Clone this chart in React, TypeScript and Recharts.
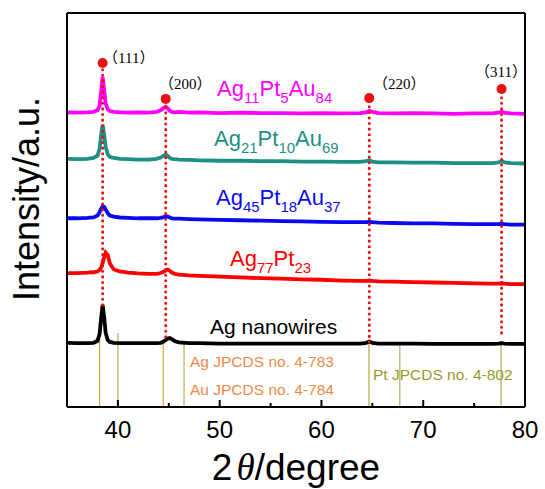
import React from "react";
import { LineChart, Line, XAxis, YAxis, ReferenceLine, ReferenceDot } from "recharts";

// 2θ sample points (denser around the reflections)
const twoTheta = [
  35, 36, 37, 37.6, 38.0, 38.2, 38.35, 38.5, 38.65, 38.8, 39.0, 39.2, 39.6, 40.2, 41, 42, 43,
  43.8, 44.2, 44.5, 44.7, 44.9, 45.1, 45.3, 45.6, 46, 47, 48, 50, 52, 54, 56, 58, 60, 62, 63.8,
  64.4, 64.7, 65.0, 65.6, 67, 69, 71, 73, 75, 76.8, 77.4, 77.7, 78.0, 78.6, 80,
];

const ag11 = [
  74.8, 74.7, 74.8, 74.9, 75.3, 76.5, 80.0, 83.8, 80.5, 77.0, 75.6, 75.1, 74.9, 74.8, 74.7, 74.8, 74.7,
  74.9, 75.3, 75.9, 76.2, 75.8, 75.2, 74.9, 74.8, 74.9, 74.7, 74.8, 74.6, 74.7, 74.6, 74.6, 74.5, 74.6, 74.5, 74.6,
  74.8, 75.2, 74.9, 74.6, 74.5, 74.6, 74.5, 74.4, 74.5, 74.5, 74.7, 75.0, 74.7, 74.5, 74.4,
];
const ag21 = [
  63.0, 62.9, 63.0, 63.2, 63.8, 65.5, 69.0, 71.6, 69.2, 66.0, 64.2, 63.5, 63.2, 63.0, 62.9, 62.8, 62.8,
  63.0, 63.3, 63.8, 64.1, 63.7, 63.2, 63.0, 62.9, 62.8, 62.7, 62.6, 62.5, 62.5, 62.4, 62.4, 62.3, 62.3, 62.2, 62.2,
  62.4, 62.6, 62.3, 62.1, 62.1, 62.0, 62.0, 61.9, 61.9, 61.9, 62.1, 62.4, 62.1, 61.9, 61.8,
];
const ag45 = [
  47.9, 47.9, 48.0, 48.1, 48.6, 49.4, 50.3, 50.9, 50.8, 50.1, 49.2, 48.6, 48.3, 48.1, 48.0, 47.9, 47.9,
  47.9, 48.0, 48.2, 48.4, 48.3, 48.1, 47.9, 47.8, 47.8, 47.7, 47.6, 47.5, 47.4, 47.3, 47.2, 47.1, 47.0, 46.9, 46.9,
  46.9, 47.0, 46.9, 46.8, 46.7, 46.6, 46.6, 46.5, 46.4, 46.4, 46.4, 46.5, 46.4, 46.3, 46.3,
];
const ag77 = [
  34.0, 34.0, 34.1, 34.2, 34.4, 34.8, 35.4, 36.5, 38.0, 39.2, 38.6, 36.5, 34.9, 34.4, 34.1, 33.9, 33.8,
  33.8, 34.0, 34.3, 34.7, 34.9, 34.6, 34.1, 33.8, 33.6, 33.4, 33.3, 33.1, 32.9, 32.7, 32.6, 32.4, 32.3, 32.1, 32.0,
  32.0, 32.1, 32.0, 31.9, 31.8, 31.7, 31.6, 31.5, 31.4, 31.3, 31.3, 31.4, 31.3, 31.2, 31.2,
];
const agNw = [
  16.3, 16.2, 16.2, 16.3, 16.8, 18.5, 22.5, 25.9, 22.8, 18.8, 17.0, 16.5, 16.3, 16.2, 16.2, 16.2, 16.2,
  16.2, 16.3, 16.6, 17.0, 17.4, 17.5, 17.2, 16.7, 16.4, 16.2, 16.2, 16.1, 16.1, 16.1, 16.1, 16.1, 16.1, 16.1, 16.1,
  16.3, 16.6, 16.3, 16.1, 16.1, 16.1, 16.0, 16.0, 16.0, 16.0, 16.1, 16.2, 16.1, 16.0, 16.0,
];

// (hkl) marker positions
const hklPos = [38.5, 44.7, 64.7, 77.7];
const hklTop = [87.3, 78.2, 78.4, 80.7];
const hklBottom = [25.9, 17.8, 16.5, 18.8];

// JCPDS standard lines
const stdPos = [38.2, 40.0, 44.45, 46.5, 64.67, 67.7, 77.65];
const stdTop = [18.8, 18.8, 17.0, 16.8, 16.5, 16.3, 16.8];
const stdColor = ["#d9a040", "#b4b060", "#d9a040", "#b4b060", "#b0a850", "#b4b060", "#b0a850"];

const xTicks = [35, 40, 45, 50, 55, 60, 65, 70, 75, 80];

const rows = twoTheta.map((t, i) => ({
  t,
  ag11: ag11[i],
  ag21: ag21[i],
  ag45: ag45[i],
  ag77: ag77[i],
  agNw: agNw[i],
}));

const sans = "'Liberation Sans', Arial, sans-serif";
const serif = "'Liberation Serif', 'Times New Roman', serif";
const hklFont = "'Liberation Serif', 'Noto Sans CJK SC', serif";

function Tick(props: any) {
  const { x, y, payload } = props;
  const v = payload.value;
  const major = v % 10 === 0;
  return (
    <g>
      <line x1={x} x2={x} y1={y} y2={y - (major ? 7 : 4)} stroke="#000" strokeWidth={2} />
      {major && (
        <text x={x} y={y + 31} textAnchor="middle" fontFamily={sans} fontSize={24} fill="#000">
          {v}
        </text>
      )}
    </g>
  );
}

const sub = (s: string, size: number, drop: number) => (
  <span style={{ fontSize: size, position: "relative", top: drop }}>{s}</span>
);

function Abs({ left, top, children, style }: any) {
  return (
    <div
      style={{
        position: "absolute",
        left,
        top,
        lineHeight: 1,
        whiteSpace: "nowrap",
        fontFamily: sans,
        ...style,
      }}
    >
      {children}
    </div>
  );
}

function Hkl({ left, top, text }: any) {
  return (
    <Abs left={left} top={top} style={{ fontSize: 15, fontFamily: hklFont, color: "#000" }}>
      <span style={{ fontFamily: "'Noto Sans CJK SC'" }}>（</span>
      {text}
      <span style={{ fontFamily: "'Noto Sans CJK SC'" }}>）</span>
    </Abs>
  );
}

export default function App() {
  return (
    <div style={{ position: "absolute", left: 0, top: 0, width: 545, height: 489, background: "#fff" }}>
      <LineChart width={545} height={489} data={rows} margin={{ top: 13, right: 20, bottom: 0, left: 67 }}>
        <XAxis
          dataKey="t"
          type="number"
          domain={[35, 80]}
          ticks={xTicks}
          tick={<Tick />}
          tickLine={false}
          tickSize={0}
          tickMargin={0}
          height={82}
          axisLine={{ stroke: "#000", strokeWidth: 2 }}
          allowDataOverflow
        />
        <YAxis hide domain={[0, 100]} type="number" />
        {stdPos.map((p, i) => (
          <ReferenceLine
            key={"std" + i}
            segment={[{ x: p, y: 0 }, { x: p, y: stdTop[i] }]}
            stroke={stdColor[i]}
            strokeWidth={1.2}
          />
        ))}
        <Line dataKey="agNw" stroke="#000" strokeWidth={3.8} dot={false} type="linear" isAnimationActive={false} />
        <Line dataKey="ag77" stroke="#ff0000" strokeWidth={3.8} dot={false} type="linear" isAnimationActive={false} />
        <Line dataKey="ag45" stroke="#0a0af0" strokeWidth={3.8} dot={false} type="linear" isAnimationActive={false} />
        <Line dataKey="ag21" stroke="#1c9083" strokeWidth={3.8} dot={false} type="linear" isAnimationActive={false} />
        <Line dataKey="ag11" stroke="#ff00ff" strokeWidth={3.8} dot={false} type="linear" isAnimationActive={false} />
        {hklPos.map((p, i) => (
          <ReferenceLine
            key={"hkl" + i}
            segment={[{ x: p, y: hklBottom[i] }, { x: p, y: hklTop[i] }]}
            stroke="#e81010"
            strokeWidth={3}
            strokeDasharray="0.1 5.5"
            strokeLinecap="round"
          />
        ))}
        {hklPos.map((p, i) => (
          <ReferenceDot key={"dot" + i} x={p} y={hklTop[i]} r={5} fill="#e81010" stroke="none" />
        ))}
        <ReferenceLine x={35} stroke="#000" strokeWidth={2} />
        <ReferenceLine x={80} stroke="#000" strokeWidth={2} />
        <ReferenceLine y={100} stroke="#000" strokeWidth={2} />
      </LineChart>

      {/* sample labels */}
      <Abs left={217} top={78} style={{ fontSize: 22, color: "#ff00ff" }}>
        Ag{sub("11", 15, 7)}Pt{sub("5", 15, 7)}Au{sub("84", 15, 7)}
      </Abs>
      <Abs left={214} top={128} style={{ fontSize: 22, color: "#1c9083" }}>
        Ag{sub("21", 15, 7)}Pt{sub("10", 15, 7)}Au{sub("69", 15, 7)}
      </Abs>
      <Abs left={216} top={187} style={{ fontSize: 22, color: "#0a0af0" }}>
        Ag{sub("45", 15, 7)}Pt{sub("18", 15, 7)}Au{sub("37", 15, 7)}
      </Abs>
      <Abs left={230} top={248} style={{ fontSize: 22, color: "#ff0000" }}>
        Ag{sub("77", 15, 7)}Pt{sub("23", 15, 7)}
      </Abs>
      <Abs left={210} top={316} style={{ fontSize: 21, color: "#000" }}>
        Ag nanowires
      </Abs>

      {/* JCPDS labels */}
      <Abs left={190} top={354} style={{ fontSize: 15.5, color: "#ec8a48" }}>
        Ag JPCDS no. 4-783
      </Abs>
      <Abs left={190} top={382} style={{ fontSize: 15.5, color: "#ec8a48" }}>
        Au JPCDS no. 4-784
      </Abs>
      <Abs left={373} top={367} style={{ fontSize: 15.5, color: "#9a9a28" }}>
        Pt JPCDS no. 4-802
      </Abs>

      {/* hkl labels */}
      <Hkl left={103} top={49} text="111" />
      <Hkl left={159} top={75} text="200" />
      <Hkl left={373} top={75} text="220" />
      <Hkl left={475} top={63} text="311" />

      {/* axis titles */}
      <Abs left={296} top={449} style={{ fontSize: 37, color: "#000", transform: "translateX(-50%)" }}>
        2<span style={{ fontFamily: serif, fontStyle: "italic", marginLeft: 4 }}>θ</span>/degree
      </Abs>
      <Abs
        left={27}
        top={199}
        style={{ fontSize: 36, color: "#000", transform: "translate(-50%, -50%) rotate(-90deg)" }}
      >
        Intensity/a.u.
      </Abs>
    </div>
  );
}
